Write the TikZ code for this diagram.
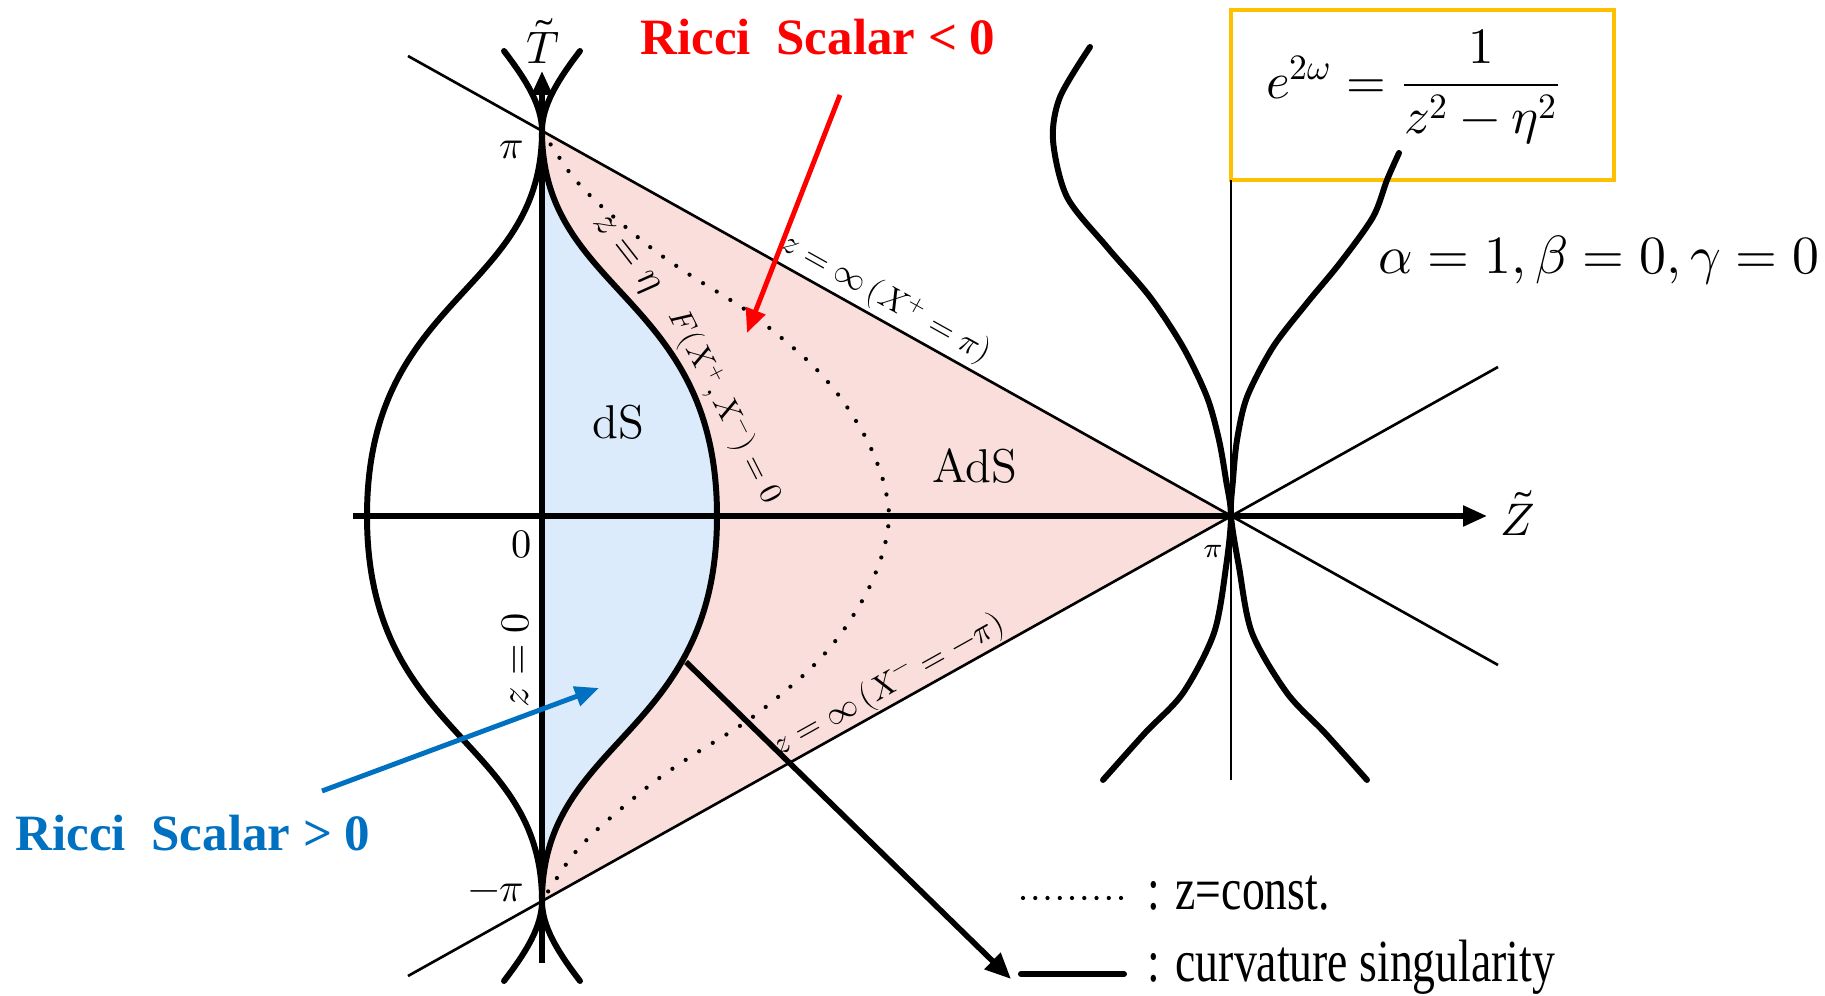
\documentclass[tikz,border=0pt]{standalone}
\usepackage{fontspec}
\usepackage{unicode-math}
\newfontfamily\pptfont{Liberation Serif}
\newfontfamily\legfont[FakeStretch=0.765]{Liberation Serif}
\usetikzlibrary{arrows.meta}
\definecolor{dsblue}{HTML}{DCEBFB}
\definecolor{adspink}{HTML}{F9DEDC}
\definecolor{ricred}{HTML}{FF0000}
\definecolor{ricblue}{HTML}{0070C0}
\definecolor{boxorange}{HTML}{FFC000}
\newcommand\fsz[1]{\fontsize{#1}{#1}\selectfont}

\begin{document}
\begin{tikzpicture}[x=.1mm,y=-.1mm,
  sing/.style={line width=1.7pt,line cap=round},
  nullline/.style={line width=.75pt},
  zconst/.style={line width=1.2pt,line cap=round,dash pattern=on 0pt off 1.6mm},
  axis/.style={line width=1.5pt,-{Triangle[length=2.4mm,width=2mm]}},
  callout/.style={line width=1.4pt,-{Triangle[length=2.4mm,width=2mm]}},
  lbl/.style={inner sep=0pt}]
  \useasboundingbox (0,0) rectangle (1825,996);
  \coordinate (top) at (542,131);
  \coordinate (bot) at (542,901);
  \coordinate (zpi) at (1231,516);
  \coordinate (ds) at (717,516);
  \coordinate (ul) at (408,56);
  \coordinate (lr) at (1498,665);
  \coordinate (ll) at (408,976);
  \coordinate (ur) at (1498,367);

  \fill[adspink] (top) -- (zpi) -- (bot) -- cycle;
  \fill[dsblue] (top) .. controls (542,295) and (717,294) .. (ds)
    .. controls (717,738) and (542,737) .. (bot) -- cycle;

  \draw[zconst] plot[smooth] coordinates {(542,131) (553,148) (573,177) (600,205)
    (650,247) (690,275) (750,313) (807,360) (840,397) (867,440) (883,480) (889,516)
    (883,552) (867,592) (840,635) (807,672) (750,719) (690,757) (650,785) (600,827)
    (573,855) (553,884) (542,901)};

  \draw[boxorange,line width=1.4pt] (1231,10) rectangle (1614,180);
  \node[lbl,font=\fsz{14.5}] (weyl) at (1414,87) {$\displaystyle e^{2\omega}=\frac{1}{z^2-\eta^2}$};
  \node[lbl,font=\fsz{15.3}] (params) at (1599,260) {$\alpha=1,\beta=0,\gamma=0$};

  \draw[nullline] (ul) -- (lr) node[lbl,pos=.429,sloped,above=1pt,font=\fsz{9.3}] (xplus) {$z=\infty\,(X^+=\pi)$};
  \draw[nullline] (ll) -- (ur) node[lbl,pos=.45,sloped,above=.3pt,font=\fsz{9.3}] (xminus) {$z=\infty\,(X^-=-\pi)$};
  \draw[nullline] (1231,180) -- (1231,780);

  \draw[sing] (504,51) .. controls (527,81) and (542,106) .. (top)
    .. controls (542,295) and (367,294) .. (367,516)
    .. controls (367,738) and (542,737) .. (bot)
    .. controls (542,926) and (527,951) .. (504,981);
  \draw[sing] (580,51) .. controls (557,81) and (542,106) .. (top)
    .. controls (542,295) and (717,294) .. (ds)
    .. controls (717,738) and (542,737) .. (bot)
    .. controls (542,926) and (557,951) .. (580,981);
  \draw[sing] plot[smooth] coordinates {(1090,47) (1060,97) (1053,140) (1067,197)
    (1107,247) (1150,297) (1183,347) (1207,397) (1219,440) (1226,480) (1231,516)
    (1226,567) (1214,633) (1183,693) (1145,733) (1103,780)};
  \draw[sing] plot[smooth] coordinates {(1399,153) (1387,180) (1373,217) (1340,263)
    (1307,303) (1273,347) (1247,397) (1237,440) (1233,480) (1231,516) (1239,567)
    (1252,633) (1287,693) (1325,733) (1367,780)};

  \draw[axis] (542,963) -- (542,71);
  \draw[axis] (353,516) -- (1487,516);

  \node[lbl,font=\fsz{13}] (tlab) at (543,41) {$\tilde{T}$};
  \node[lbl,font=\fsz{13}] (zlab) at (1518,513) {$\tilde{Z}$};
  \node[lbl,font=\fsz{11.5}] (pitop) at (512,150) {$\pi$};
  \node[lbl,font=\fsz{11.5}] (zero) at (522,544) {$0$};
  \node[lbl,font=\fsz{11.5}] (pibot) at (496,893) {$-\pi$};
  \node[lbl,font=\fsz{8}] (piz) at (1213,552) {$\pi$};
  \node[lbl,font=\fsz{11.5},rotate=90] (zzero) at (515,660) {$z=0$};
  \node[lbl,font=\fsz{11},rotate=-52] (zeta) at (624,256) {$z=\eta$};
  \node[lbl,font=\fsz{9},rotate=-63] (fzero) at (724,407) {$F(X^+,X^-)=0$};
  \node[lbl,font=\fsz{13.5}] (dslab) at (618,422) {dS};
  \node[lbl,font=\fsz{13.5}] (adslab) at (975,466) {AdS};

  \node[lbl,anchor=base,text=ricred,font=\pptfont\bfseries\fsz{14.5}] (negR) at (818,55) {Ricci\ \ Scalar < 0};
  \node[lbl,anchor=base,text=ricblue,font=\pptfont\bfseries\fsz{14.5}] (posR) at (193,851) {Ricci\ \ Scalar > 0};
  \coordinate (negtail) at (840,95);
  \coordinate (neghead) at (747,333);
  \coordinate (postail) at (322,791);
  \coordinate (poshead) at (599,688);
  \coordinate (singpt) at (686,662);
  \coordinate (leghead) at (1011,979);
  \draw[callout,ricred] (negtail) -- (neghead);
  \draw[callout,ricblue] (postail) -- (poshead);
  \draw[callout,line width=1.6pt,-{Triangle[length=2.6mm,width=2.2mm]}] (singpt) -- (leghead);

  \draw[zconst,dash pattern=on 0pt off 1.225mm] (1023,898) -- (1122,898);
  \draw[sing] (1021,974) -- (1124,974);
  \node[lbl,anchor=base west,font=\legfont\fsz{17}] (legz) at (1147,910) {: z=const.};
  \node[lbl,anchor=base west,font=\legfont\fsz{17}] (legs) at (1147,982) {: curvature singularity};
\end{tikzpicture}
\end{document}
